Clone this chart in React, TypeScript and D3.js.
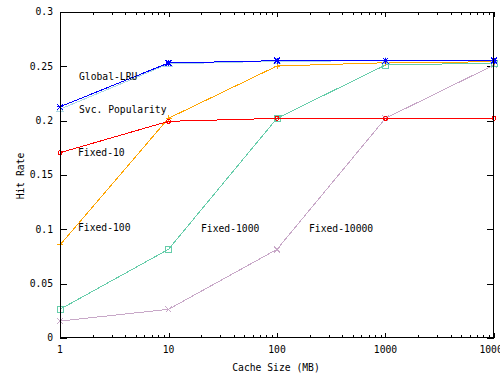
import React from "react";
import * as d3 from "d3";

const cacheSizes = [1, 10, 100, 1000, 10000];
const globalLRU = [0.2128, 0.2531, 0.2552, 0.2552, 0.2552];
const svcPopularity = [0.2105, 0.2522, 0.2548, 0.2550, 0.2550];
const fixed10 = [0.1705, 0.1994, 0.2021, 0.2022, 0.2022];
const fixed100 = [0.0856, 0.2022, 0.2503, 0.2533, 0.2542];
const fixed1000 = [0.0264, 0.0816, 0.2022, 0.2512, 0.2530];
const fixed10000 = [0.0156, 0.0264, 0.0816, 0.2022, 0.2512];
const yTicks = [0, 0.05, 0.1, 0.15, 0.2, 0.25, 0.3];
const yTickLabels = ["0", "0.05", "0.1", "0.15", "0.2", "0.25", "0.3"];
const xTickLabels = ["1", "10", "100", "1000", "10000"];

type Series = { name: string; values: number[]; color: string; marker: string; lx: number; ly: number };

const series: Series[] = [
  { name: "Fixed-10000", values: fixed10000, color: "#c8a8c8", marker: "x", lx: 309, ly: 229 },
  { name: "Fixed-1000", values: fixed1000, color: "#66cdaa", marker: "square", lx: 201, ly: 229 },
  { name: "Fixed-100", values: fixed100, color: "#ffa500", marker: "plus", lx: 78, ly: 228 },
  { name: "Fixed-10", values: fixed10, color: "#ff0000", marker: "circle", lx: 78, ly: 153 },
  { name: "Svc. Popularity", values: svcPopularity, color: "#add8e6", marker: "triangle", lx: 79, ly: 110 },
  { name: "Global-LRU", values: globalLRU, color: "#0000ff", marker: "star", lx: 79, ly: 77 },
];

const W = 500;
const H = 386;
const L = 60, R = 494, T = 12, B = 338;
const FONT = "'DejaVu Sans Mono', monospace";
const FS = 9.7;

function Marker({ kind, x, y, color }: { kind: string; x: number; y: number; color: string }) {
  const s = 3;
  switch (kind) {
    case "plus":
      return <path d={`M${x - s},${y}H${x + s}M${x},${y - s}V${y + s}`} stroke={color} fill="none" />;
    case "x":
      return <path d={`M${x - s},${y - s}L${x + s},${y + s}M${x - s},${y + s}L${x + s},${y - s}`} stroke={color} fill="none" />;
    case "star":
      return (
        <path
          d={`M${x - s},${y}H${x + s}M${x},${y - s}V${y + s}M${x - s},${y - s}L${x + s},${y + s}M${x - s},${y + s}L${x + s},${y - s}`}
          stroke={color}
          strokeWidth={1}
          fill="none"
        />
      );
    case "square":
      return <rect x={x - 3} y={y - 3} width={6} height={6} stroke={color} fill="none" />;
    case "circle":
      return <circle cx={x} cy={y} r={2} stroke={color} fill="none" />;
    case "triangle":
      return <path d={`M${x},${y - 3}L${x + 3.5},${y + 2.5}L${x - 3.5},${y + 2.5}Z`} stroke={color} fill="none" />;
  }
  return null;
}

export default function App() {
  const x = d3.scaleLog().domain([1, 10000]).range([L, R]);
  const y = d3.scaleLinear().domain([0, 0.3]).range([B, T]);
  const line = d3
    .line<number>()
    .x((_, i) => x(cacheSizes[i]))
    .y((d) => y(d));

  const minorTicks: number[] = [];
  for (let dec = 1; dec < 10000; dec *= 10) {
    for (let k = 2; k <= 9; k++) minorTicks.push(dec * k);
  }

  return (
    <svg width={W} height={H} style={{ position: "absolute", left: 0, top: 0, background: "#fff" }}>
      <rect x={0} y={0} width={W} height={H} fill="#fff" />
      <g stroke="#000" strokeWidth={1} shapeRendering="crispEdges">
        {yTicks.map((t, i) => (
          <g key={"yt" + i}>
            <line x1={L} x2={L + 7} y1={Math.round(y(t)) + 0.5} y2={Math.round(y(t)) + 0.5} />
            <line x1={R - 7} x2={R} y1={Math.round(y(t)) + 0.5} y2={Math.round(y(t)) + 0.5} />
          </g>
        ))}
        {cacheSizes.map((c, i) => (
          <g key={"xt" + i}>
            <line x1={Math.round(x(c)) + 0.5} x2={Math.round(x(c)) + 0.5} y1={B} y2={B - 5} />
            <line x1={Math.round(x(c)) + 0.5} x2={Math.round(x(c)) + 0.5} y1={T} y2={T + 5} />
          </g>
        ))}
        {minorTicks.map((c, i) => (
          <g key={"mt" + i}>
            <line x1={Math.round(x(c)) + 0.5} x2={Math.round(x(c)) + 0.5} y1={B} y2={B - 3} />
            <line x1={Math.round(x(c)) + 0.5} x2={Math.round(x(c)) + 0.5} y1={T} y2={T + 3} />
          </g>
        ))}
      </g>
      <g fontFamily={FONT} fontSize={FS} fill="#000">
        {yTicks.map((t, i) => (
          <text key={"yl" + i} x={53} y={y(t)} dy="0.35em" textAnchor="end">
            {yTickLabels[i]}
          </text>
        ))}
        {cacheSizes.map((c, i) => (
          <text key={"xl" + i} x={x(c)} y={350} dy="0.35em" textAnchor="middle">
            {xTickLabels[i]}
          </text>
        ))}
        <text x={276} y={368} dy="0.35em" textAnchor="middle">
          Cache Size (MB)
        </text>
        <text transform="translate(21,176) rotate(-90)" dy="0.35em" textAnchor="middle">
          Hit Rate
        </text>
      </g>
      {series.map((s) => (
        <g key={s.name} shapeRendering="crispEdges">
          <path d={line(s.values) || ""} stroke={s.color} strokeWidth={1} fill="none" />
          {s.values.map((v, i) => (
            <Marker key={i} kind={s.marker} x={x(cacheSizes[i])} y={y(v)} color={s.color} />
          ))}
        </g>
      ))}
      <g fontFamily={FONT} fontSize={FS} fill="#000">
        {series.map((s) => (
          <text key={"lab" + s.name} x={s.lx} y={s.ly} dy="0.35em">
            {s.name}
          </text>
        ))}
      </g>
      <rect x={L + 0.5} y={T + 0.5} width={R - L - 1} height={B - T - 1} fill="none" stroke="#000" strokeWidth={1} shapeRendering="crispEdges" />
    </svg>
  );
}
